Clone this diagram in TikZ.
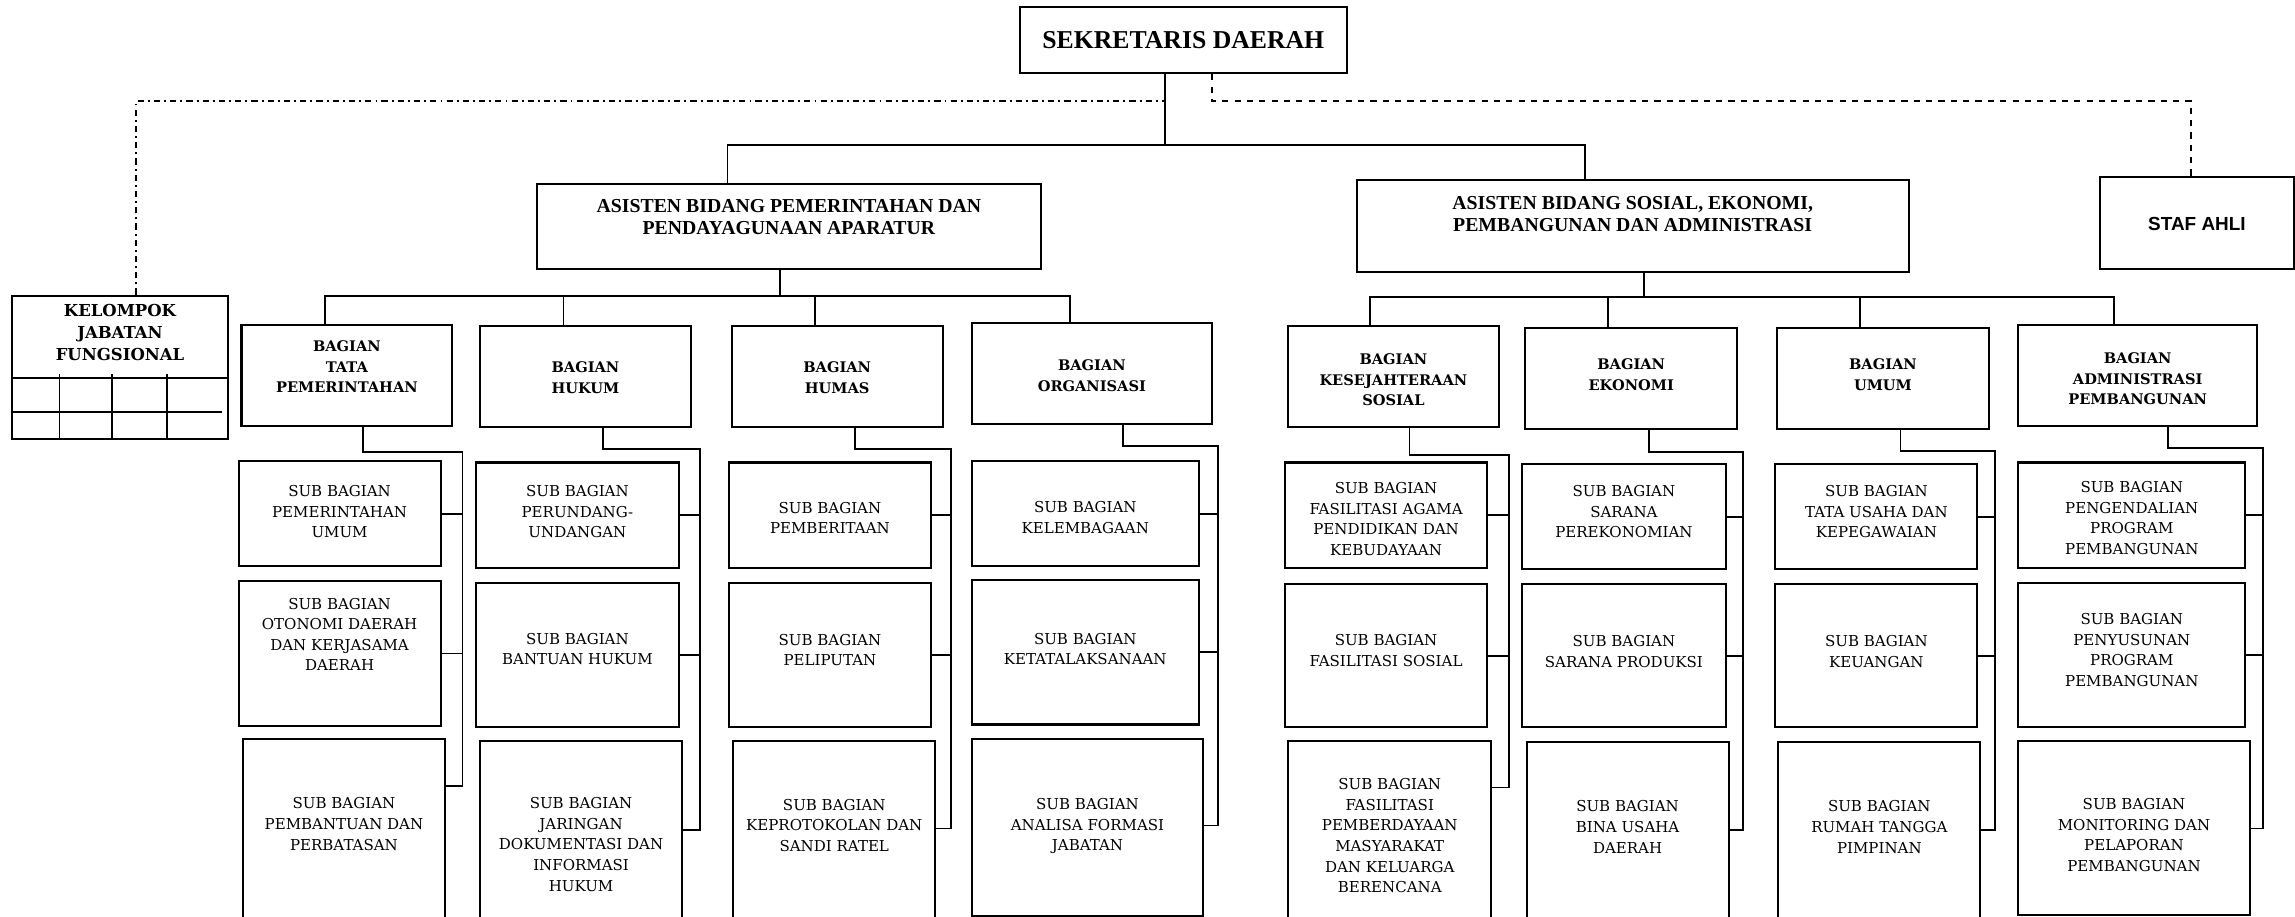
\documentclass[tikz,border=0pt]{standalone}
\usepackage{fontspec}
\setmainfont{DejaVu Serif}
\newfontfamily\headfont{Liberation Serif}
\newfontfamily\staffont{Liberation Sans}
\usetikzlibrary{calc}

\newcommand{\orgbox}[8][subtext]{%
  \node[box, minimum width={(#5-#3)*0.025cm}, minimum height={(#6-#4)*0.025cm}] (#2) at ({(#3+#5)/2},{(#4+#6)/2}) {};
  \node[#1] (#2-text) at ({(#3+#5)/2},#7) {#8};}

\begin{document}
\begin{tikzpicture}[x=0.025cm, y=-0.025cm,
  box/.style={shape=rectangle, draw, line width=1pt, inner sep=0pt},
  link/.style={line width=0.9pt},
  subtext/.style={align=center, inner sep=0pt, font=\fontsize{7.3}{10}\selectfont},
  bagtext/.style={align=center, inner sep=0pt, font=\bfseries\fontsize{7.1}{10}\selectfont},
  kjftext/.style={align=center, inner sep=0pt, font=\bfseries\fontsize{8}{10.7}\selectfont},
  asstext/.style={align=center, inner sep=0pt, font=\headfont\bfseries\fontsize{9.6}{10.7}\selectfont},
  toptext/.style={align=center, inner sep=0pt, font=\headfont\bfseries\fontsize{12.5}{14}\selectfont},
  staftext/.style={align=center, inner sep=0pt, font=\staffont\bfseries\fontsize{9.2}{11}\selectfont}]
\useasboundingbox (0,0) rectangle (1568,626.5);
\clip (0,0) rectangle (1568,626.5);

\orgbox[toptext]{sekda}{697}{5}{920}{50}{27.5}{SEKRETARIS DAERAH}
\orgbox[asstext]{as1}{367}{126}{711}{184}{148.5}{ASISTEN BIDANG PEMERINTAHAN DAN\\PENDAYAGUNAAN APARATUR}
\orgbox[asstext]{as2}{927}{123}{1304}{186}{146.5}{ASISTEN BIDANG SOSIAL, EKONOMI,\\PEMBANGUNAN DAN ADMINISTRASI}
\orgbox[staftext]{staf}{1435}{121}{1567}{184}{153}{STAF AHLI}
\orgbox[kjftext]{kjf}{8}{202}{156}{300}{227}{KELOMPOK\\JABATAN\\FUNGSIONAL}

\foreach \n/\xa/\ya/\xb/\yb/\ty/\t in {
  tp/165/222/309/291/250.5/{BAGIAN\\TATA\\PEMERINTAHAN},
  hk/328/223/472/292/258/{BAGIAN\\HUKUM},
  hm/500/223/644/292/258/{BAGIAN\\HUMAS},
  org/664/221/828/290/256.5/{BAGIAN\\ORGANISASI},
  ks/880/223/1024/292/259.5/{BAGIAN\\KESEJAHTERAAN\\SOSIAL},
  ek/1042/224/1187/293/256/{BAGIAN\\EKONOMI},
  um/1214/224/1359/293/256/{BAGIAN\\UMUM},
  ap/1379/222/1542/291/259/{BAGIAN\\ADMINISTRASI\\PEMBANGUNAN}}
  \orgbox[bagtext]{\n}{\xa}{\ya}{\xb}{\yb}{\ty}{\t};

\foreach \n/\xa/\ya/\xb/\yb/\ty/\t in {
  tp-1/163/315/301/387/349.5/{SUB BAGIAN\\PEMERINTAHAN\\UMUM},
  tp-2/163/397/301/496/433.5/{SUB BAGIAN\\OTONOMI DAERAH\\DAN KERJASAMA\\DAERAH},
  tp-3/166/505/304/640/563/{SUB BAGIAN\\PEMBANTUAN DAN\\PERBATASAN},
  hk-1/325/316/464/388/349.5/{SUB BAGIAN\\PERUNDANG-\\UNDANGAN},
  hk-2/325/398/464/497/443.5/{SUB BAGIAN\\BANTUAN HUKUM},
  hk-3/328/506/466/640/577/{SUB BAGIAN\\JARINGAN\\DOKUMENTASI DAN\\INFORMASI\\HUKUM},
  hm-1/498/316/636/388/354/{SUB BAGIAN\\PEMBERITAAN},
  hm-2/498/398/636/497/444/{SUB BAGIAN\\PELIPUTAN},
  hm-3/501/506/639/640/564/{SUB BAGIAN\\KEPROTOKOLAN DAN\\SANDI RATEL},
  org-1/664/315/819/387/353.5/{SUB BAGIAN\\KELEMBAGAAN},
  org-2/664/396/819/495/443.5/{SUB BAGIAN\\KETATALAKSANAAN},
  org-3/664/505/822/626/564.5/{SUB BAGIAN\\ANALISA FORMASI\\JABATAN},
  ks-1/878/316/1016/388/354.5/{SUB BAGIAN\\FASILITASI AGAMA\\PENDIDIKAN DAN\\KEBUDAYAAN},
  ks-2/878/399/1016/497/444.5/{SUB BAGIAN\\FASILITASI SOSIAL},
  ks-3/880/506/1019/640/571/{SUB BAGIAN\\FASILITASI\\PEMBERDAYAAN\\MASYARAKAT\\DAN KELUARGA\\BERENCANA},
  ek-1/1040/317/1179/389/349.5/{SUB BAGIAN\\SARANA\\PEREKONOMIAN},
  ek-2/1040/399/1179/497/445/{SUB BAGIAN\\SARANA PRODUKSI},
  ek-3/1043/507/1181/640/565/{SUB BAGIAN\\BINA USAHA\\DAERAH},
  um-1/1213/317/1351/389/349.5/{SUB BAGIAN\\TATA USAHA DAN\\KEPEGAWAIAN},
  um-2/1213/399/1351/497/445/{SUB BAGIAN\\KEUANGAN},
  um-3/1215/507/1353/640/565/{SUB BAGIAN\\RUMAH TANGGA\\PIMPINAN},
  ap-1/1379/316/1534/388/354/{SUB BAGIAN\\PENGENDALIAN\\PROGRAM\\PEMBANGUNAN},
  ap-2/1379/398/1534/497/444/{SUB BAGIAN\\PENYUSUNAN\\PROGRAM\\PEMBANGUNAN},
  ap-3/1379/506/1537/625/570.5/{SUB BAGIAN\\MONITORING DAN\\PELAPORAN\\PEMBANGUNAN}}
  \orgbox{\n}{\xa}{\ya}{\xb}{\yb}{\ty}{\t};

\coordinate (hub) at (796,99);
\coordinate (as1-in) at (497,99);
\coordinate (as2-in) at (1083,99);
\draw[link] (sekda.south -| hub) -- (hub);
\draw[link] (as1.north -| as1-in) -- (as1-in) -- (as2-in) -- (as2.north -| as2-in);
\coordinate (kjf-in) at (93,69);
\draw[link, dash dot] (kjf.north -| kjf-in) -- (kjf-in) -- (kjf-in -| hub);
\coordinate (sekda-out) at (828,69);
\coordinate (staf-in) at (1497,69);
\draw[link, dashed] (sekda.south -| sekda-out) -- (sekda-out) -- (staf-in) -- (staf.north -| staf-in);

\coordinate (as1-out) at (533,202);
\coordinate (as2-out) at (1123,203);
\draw[link] (as1.south -| as1-out) -- (as1-out);
\draw[link] (as2.south -| as2-out) -- (as2-out);
\foreach \b in {tp, hk, hm, org}
  \draw[link] ($(\b.north)+(-15,0)$) |- (as1-out);
\foreach \b in {ks, ek, um, ap}
  \draw[link] ($(\b.north)+(-16,0)$) |- (as2-out);

\foreach \b/\dx/\rx/\ry/\ey in {tp/11/316/309/537, hk/12/478/307/567, hm/12/650/307/566, org/21/832/305/564,
  ks/11/1031/311/538, ek/12/1191/309/567, um/12/1363/308/567, ap/21/1546/306/566} {
  \coordinate (\b-rail) at (\rx,\ry);
  \coordinate (\b-end) at (\rx,\ey);
  \draw[link] ($(\b.south)+(\dx,0)$) |- (\b-rail) -- (\b-end) -- (\b-3.east |- \b-end);
  \draw[link] (\b-1.east) -- (\b-1.east -| \b-rail);
  \draw[link] (\b-2.east) -- (\b-2.east -| \b-rail);
}

\draw[link] ($(kjf.north west)!0.575!(kjf.south west)$) -- ($(kjf.north east)!0.575!(kjf.south east)$);
\draw[link] ($(kjf.north west)!0.808!(kjf.south west)$) -- ($(kjf.north east)!0.808!(kjf.south east)+(-5,0)$);
\foreach \f in {0.223, 0.464, 0.713}
  \draw[link] ($(kjf.south west)!\f!(kjf.south east)$) -- +(0,-45);
\end{tikzpicture}
\end{document}
